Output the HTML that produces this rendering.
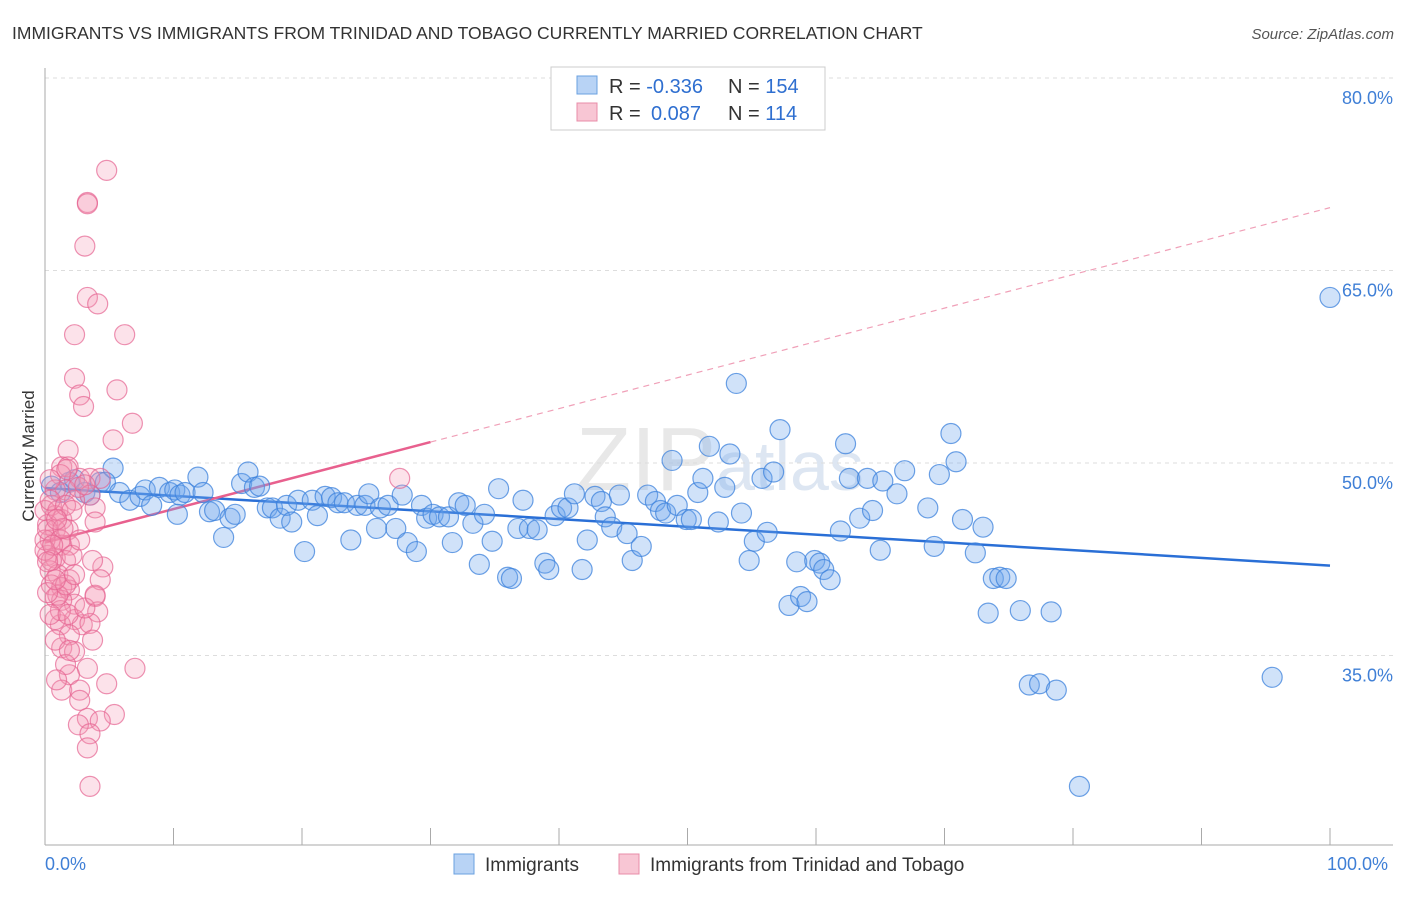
<!DOCTYPE html>
<html><head><meta charset="utf-8"><style>
body{margin:0;background:#fff;font-family:"Liberation Sans",sans-serif;}
svg text{font-family:"Liberation Sans",sans-serif;}
</style></head><body>
<svg id="chart" width="1406" height="892">
<text x="12" y="39" font-size="17.5" fill="#333">IMMIGRANTS VS IMMIGRANTS FROM TRINIDAD AND TOBAGO CURRENTLY MARRIED CORRELATION CHART</text>
<text x="1394" y="39" font-size="15" fill="#555" text-anchor="end" font-style="italic">Source: ZipAtlas.com</text>
<text x="34" y="456" font-size="17" fill="#333" text-anchor="middle" transform="rotate(-90 34 456)">Currently Married</text>
<text x="720" y="490" font-size="90" fill="#e8e8e8" text-anchor="middle" font-family="Liberation Serif">ZIP<tspan font-family="Liberation Sans" font-size="70" fill="#dde6f2">atlas</tspan></text>
<g id="grid"></g><g id="axes"></g><g id="trends"></g><g id="pts"></g>
<g>
<rect x="551" y="67" width="274" height="63" fill="#fff" stroke="#ccc"/>
<rect x="577" y="76" width="20" height="18" fill="#b8d3f5" stroke="#6aa0e0"/>
<rect x="577" y="103" width="20" height="18" fill="#f8c6d4" stroke="#e88ca8"/>
<text x="609" y="93" font-size="20" fill="#333">R = <tspan fill="#2f6fd0">-0.336</tspan><tspan x="728">N = </tspan><tspan fill="#2f6fd0">154</tspan></text>
<text x="609" y="120" font-size="20" fill="#333">R = <tspan x="651" fill="#2f6fd0">0.087</tspan><tspan x="728">N = </tspan><tspan fill="#2f6fd0">114</tspan></text>
</g>
<g>
<rect x="454" y="854" width="20" height="20" fill="#b8d3f5" stroke="#6aa0e0"/>
<text x="485" y="871" font-size="19" fill="#333">Immigrants</text>
<rect x="619" y="854" width="20" height="20" fill="#f8c6d4" stroke="#e88ca8"/>
<text x="650" y="871" font-size="19" fill="#333">Immigrants from Trinidad and Tobago</text>
</g>
</svg>
<script>
const blueX=[0.5,1.2,1.9,2.3,3.1,3.5,4.3,5.3,4.7,5.8,6.6,7.4,7.8,8.3,8.9,9.7,10.1,10.5,10.3,10.9,11.9,12.3,12.8,13.2,13.9,14.4,14.8,15.3,15.8,16.3,16.7,17.3,17.7,18.3,18.8,19.2,19.7,20.2,20.8,21.2,21.8,22.3,22.8,23.3,23.8,24.3,24.9,25.2,25.8,26.1,26.7,27.3,27.8,28.2,28.9,29.3,29.7,30.2,30.7,31.4,31.7,32.2,32.7,33.3,33.8,34.2,34.8,35.3,36.0,36.3,36.8,37.2,37.7,38.3,38.9,39.2,39.7,40.2,40.7,41.2,41.8,42.2,42.8,43.3,43.6,44.1,44.7,45.3,45.7,46.4,46.9,47.5,47.9,48.3,48.8,49.2,49.9,50.3,50.8,51.2,51.7,52.4,52.9,53.3,53.8,54.2,54.8,55.2,55.8,56.2,56.7,57.2,57.9,58.5,58.8,59.3,59.9,60.3,60.6,61.1,61.9,62.3,62.6,63.4,64.0,64.4,65.0,65.2,66.3,66.9,68.7,69.2,69.6,70.5,70.9,71.4,72.4,73.0,73.4,73.8,74.3,74.8,75.9,76.6,77.4,78.3,78.7,80.5,95.5,100.0];
const blueY=[48.2,47.7,48.5,48.7,47.7,47.5,48.5,49.6,48.5,47.7,47.1,47.4,47.9,46.7,48.1,47.7,47.9,47.5,46.0,47.7,48.9,47.7,46.2,46.3,44.2,45.7,46.0,48.4,49.3,48.1,48.2,46.5,46.5,45.7,46.7,45.4,47.1,43.1,47.1,45.9,47.4,47.3,46.9,46.9,44.0,46.7,46.7,47.6,44.9,46.5,46.7,44.9,47.5,43.8,43.1,46.7,45.7,46.0,45.8,45.8,43.8,46.9,46.7,45.3,42.1,46.0,43.9,48.0,41.1,41.0,44.9,47.1,44.9,44.8,42.2,41.7,45.9,46.5,46.5,47.6,41.7,44.0,47.4,47.0,45.8,45.0,47.5,44.5,42.4,43.5,47.5,47.0,46.3,46.1,50.2,46.7,45.6,45.6,47.7,48.8,51.3,45.4,48.1,50.7,56.2,46.1,42.4,43.9,48.8,44.6,49.3,52.6,38.9,42.3,39.6,39.2,42.4,42.2,41.7,40.9,44.7,51.5,48.8,45.7,48.8,46.3,43.2,48.6,47.6,49.4,46.5,43.5,49.1,52.3,50.1,45.6,43.0,45.0,38.3,41.0,41.1,41.0,38.5,32.7,32.8,38.4,32.3,24.8,33.3,62.9];
const pinkX=[4.8,3.3,3.3,3.1,3.3,4.1,2.3,6.2,2.3,5.6,2.7,3.0,6.8,5.3,1.8,1.3,1.8,1.2,2.7,3.5,4.3,1.6,0.8,3.5,2.3,3.9,0.5,0.8,1.3,0.2,0.8,1.8,3.9,0.4,1.3,1.9,0.2,0.8,1.6,0.4,1.0,4.5,1.9,0.5,1.3,1.9,4.3,2.3,0.8,1.3,3.9,4.1,2.3,1.2,2.9,3.5,1.9,3.7,1.3,2.3,7.0,3.3,1.9,1.3,2.7,4.8,2.7,5.4,3.3,2.6,4.3,3.5,3.3,3.5,27.6,0,0,0.2,0.5,1.2,0,1.0,0.4,1.6,2.1,0.8,1.2,0.4,0.8,1.6,2.6,0.4,3.1,1.7,0.6,1.4,0.9,0.2,2.1,2.7,1.0,1.8,3.1,1.9,0.9,3.9,0.2,1.6,0.8,2.3,3.7];
const pinkY=[72.8,70.3,70.2,66.9,62.9,62.4,60.0,60.0,56.6,55.7,55.3,54.4,53.1,51.8,51.0,49.7,49.7,49.1,48.8,48.8,48.8,47.9,47.9,47.5,47.1,46.5,46.7,45.9,45.6,45.2,44.8,44.8,45.4,44.0,43.6,43.6,42.8,42.6,42.4,41.6,41.3,41.9,40.9,40.5,40.3,40.1,40.9,39.0,39.5,39.3,39.6,38.4,37.8,37.4,37.4,37.5,36.6,36.2,35.6,35.3,34.0,34.0,33.5,32.3,32.3,32.8,31.5,30.4,30.1,29.6,29.9,28.9,27.8,24.8,48.8,46.3,44.0,44.8,42.4,44.0,43.2,46.3,47.1,46.7,46.3,37.8,38.5,38.2,36.2,34.3,48.1,48.7,48.3,49.5,43.6,44.9,45.6,42.3,42.8,44.0,39.7,38.2,38.7,35.4,33.1,39.7,39.9,40.5,40.9,41.3,42.4];
const blueTrend=[48.05,42.0];   // y at x=0 and x=100
const pinkTrend=[43.8,69.9];
const pinkSolidEnd=30;
const yTicks=[80,65,50,35];
const xTickLabels=["0.0%","100.0%"];
const NS="http://www.w3.org/2000/svg";
const X=v=>45+v*12.85;
const Y=v=>463-(v-50)*12.833;
function mk(tag,attrs,parent){const e=document.createElementNS(NS,tag);for(const k in attrs)e.setAttribute(k,attrs[k]);parent.appendChild(e);return e;}
const grid=document.getElementById('grid'),axes=document.getElementById('axes'),tr=document.getElementById('trends'),pts=document.getElementById('pts');
yTicks.forEach(t=>{
 const l=mk('line',{x1:45,x2:1393,y1:Y(t),y2:Y(t),stroke:'#ddd','stroke-dasharray':'4,4'},grid);
 
 
 const tx=mk('text',{x:1393,y:Y(t)+26,'font-size':18,fill:'#3f7fd6','text-anchor':'end'},grid);
 tx.textContent=t.toFixed(1)+'%';
 
 
});
const ya=mk('line',{x1:45,x2:45,y1:68,y2:845,stroke:'#aaa'},axes);


const xa=mk('line',{x1:45,x2:1393,y1:845,y2:845,stroke:'#aaa'},axes);


for(let i=0;i<=10;i++){
 const tk=mk('line',{x1:X(i*10),x2:X(i*10),y1:828,y2:845,stroke:'#aaa'},axes);
 
 
}
[[0,'start'],[100,'end']].forEach((p,i)=>{
 const t=mk('text',{x:X(p[0])+(i?58:0),y:870,'font-size':18,fill:'#3f7fd6','text-anchor':p[1]},axes);
 t.textContent=xTickLabels[i];
 
 
});
function dot(x,y,fill,stroke,name){
 const c=mk('circle',{cx:X(x),cy:Y(y),r:10,fill:fill,stroke:stroke,'stroke-width':1.2},pts);
 
 
}
blueX.forEach((x,i)=>dot(x,blueY[i],'rgba(110,165,235,0.32)','rgba(60,130,220,0.75)','immigrants-point'));
pinkX.forEach((x,i)=>dot(x,pinkY[i],'rgba(245,150,180,0.28)','rgba(230,100,145,0.7)','trinidad-point'));
const pAt=x=>pinkTrend[0]+(pinkTrend[1]-pinkTrend[0])*x/100;
const bl=mk('line',{x1:X(0),y1:Y(blueTrend[0]),x2:X(100),y2:Y(blueTrend[1]),stroke:'#2a6fd6','stroke-width':2.5},tr);


const ps=mk('line',{x1:X(0),y1:Y(pAt(0)),x2:X(pinkSolidEnd),y2:Y(pAt(pinkSolidEnd)),stroke:'#e8608e','stroke-width':2.5},tr);


const pd=mk('line',{x1:X(pinkSolidEnd),y1:Y(pAt(pinkSolidEnd)),x2:X(100),y2:Y(pAt(100)),stroke:'#f0a0b8','stroke-width':1.2,'stroke-dasharray':'6,5'},tr);


</script>
</body></html>
